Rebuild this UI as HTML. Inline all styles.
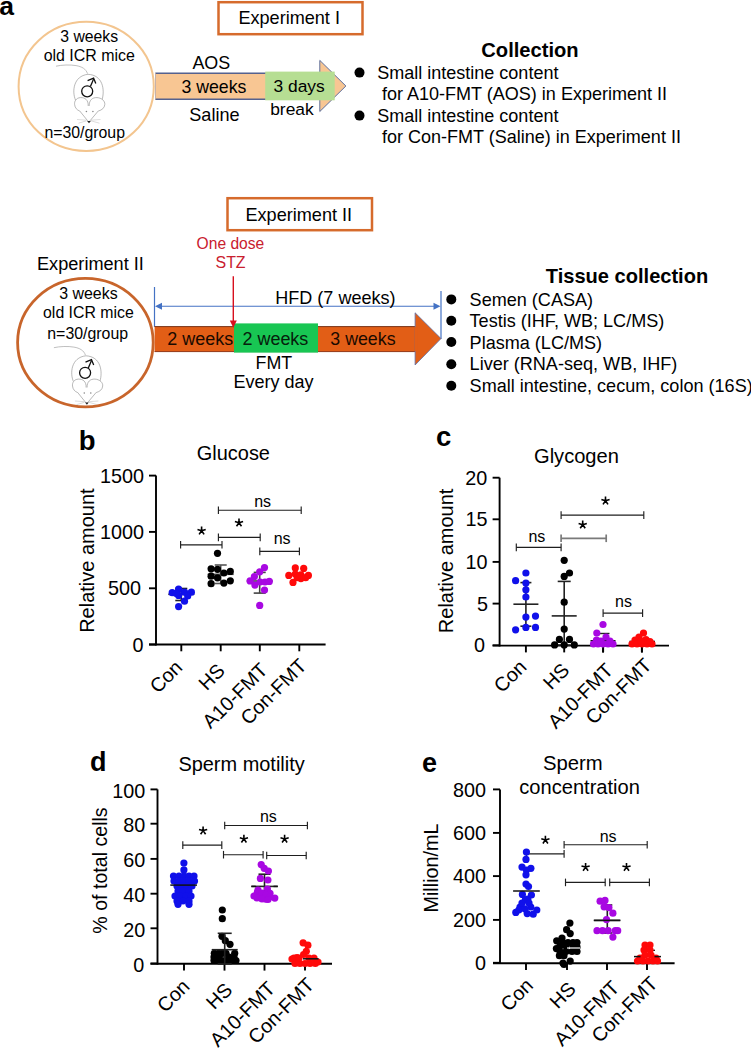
<!DOCTYPE html>
<html><head><meta charset="utf-8"><style>
html,body{margin:0;padding:0;background:#fff;}
body{width:751px;height:1050px;overflow:hidden;}
svg{display:block;font-family:"Liberation Sans", sans-serif;}
</style></head><body>
<svg width="751" height="1050" viewBox="0 0 751 1050">
<rect width="751" height="1050" fill="#fff"/>
<text x="-0.7" y="15.3" font-size="26.5" text-anchor="start" font-weight="bold" fill="#000" >a</text>
<ellipse cx="86.2" cy="86.4" rx="67.6" ry="64.6" fill="#fff" stroke="#F3C58F" stroke-width="2"/>
<text x="89.2" y="42.1" font-size="15.75" text-anchor="middle" font-weight="normal" fill="#000" >3 weeks</text>
<text x="89.3" y="61.3" font-size="15.95" text-anchor="middle" font-weight="normal" fill="#000" >old ICR mice</text>
<g transform="translate(0,0)" fill="none" stroke="#8a8a8a" stroke-width="0.6">
<path d="M56,66.2 C62,64.8 70,64.6 76,65.6 C82,66.6 86,69 87.5,73.6" stroke="#b8b8b8" stroke-width="0.9"/>
<path d="M75.5,100 C72,92 73,76 88,74.3 C103,75 105,90 102,100" fill="#fff"/>
<path d="M88.2,106 C88.5,100 85,97.4 80.5,97.6 C76,97.8 74.2,101.5 74.6,104.5 C75,108 77,110 79.6,111" fill="#fff"/>
<path d="M89.2,106 C89,100 92.5,97.4 97,97.6 C101.5,97.8 105.2,101 104.8,104.5 C104.5,108 102,110 98.4,111" fill="#fff"/>
<path d="M79.6,110.8 L88.8,122.2 L98.4,110.8" fill="none"/>
<path d="M86.5,120.2 L77,119.5 M86.5,120.8 L78.5,123.2 M91,120.2 L100.5,119.5 M91,120.8 L99.5,123.2" stroke="#bbb" stroke-width="0.5"/>
</g>
<g transform="translate(0,0)">
<circle cx="86.4" cy="111.5" r="0.8" fill="#888"/><circle cx="92.9" cy="111.5" r="0.8" fill="#888"/>
<path d="M87.2,121 L90.8,121 L89,123.2 Z" fill="#222"/>
<circle cx="87.2" cy="91.3" r="5.5" fill="none" stroke="#111" stroke-width="1.3"/>
<line x1="90.4" y1="86.6" x2="93.6" y2="79" stroke="#111" stroke-width="1.3"/>
<path d="M87.6,80.6 L93.6,78.2 L95.8,83.6" fill="none" stroke="#111" stroke-width="1.3"/>
</g>
<text x="84.7" y="137.9" font-size="15.85" text-anchor="middle" font-weight="normal" fill="#000" >n=30/group</text>
<rect x="218.5" y="2.2" width="144" height="32" fill="#fff" stroke="#D66B2C" stroke-width="2.5"/>
<text x="238.4" y="23.6" font-size="18.1" text-anchor="start" font-weight="normal" fill="#000" >Experiment I</text>
<rect x="155.3" y="73" width="165" height="26.5" fill="#F8C693"/>
<line x1="155.3" y1="73.2" x2="320.3" y2="73.2" stroke="#55618E" stroke-width="1.4" />
<line x1="155.3" y1="99.3" x2="320.3" y2="99.3" stroke="#55618E" stroke-width="1.4" />
<line x1="155.5" y1="73" x2="155.5" y2="99.5" stroke="#B8A8A8" stroke-width="0.8" />
<polygon points="319.8,60.4 345.9,86 319.8,111.5" fill="#F8C693" stroke="#5E6F9C" stroke-width="1"/>
<rect x="265.2" y="71.6" width="69.5" height="28.7" fill="#B6DE93"/>
<text x="192.4" y="68.8" font-size="17.9" text-anchor="start" font-weight="normal" fill="#000" >AOS</text>
<text x="181.5" y="92.9" font-size="17.7" text-anchor="start" font-weight="normal" fill="#000" >3 weeks</text>
<text x="189.3" y="120.5" font-size="18.1" text-anchor="start" font-weight="normal" fill="#000" >Saline</text>
<text x="273.5" y="91.9" font-size="17.4" text-anchor="start" font-weight="normal" fill="#000" >3 days</text>
<text x="270.2" y="114.7" font-size="17.4" text-anchor="start" font-weight="normal" fill="#000" >break</text>
<circle cx="359.5" cy="72.6" r="5.0" fill="#000"/>
<circle cx="359.5" cy="115.6" r="5.0" fill="#000"/>
<text x="481.3" y="56.8" font-size="20.15" text-anchor="start" font-weight="bold" fill="#000" >Collection</text>
<text x="377.2" y="78.9" font-size="18.03" text-anchor="start" font-weight="normal" fill="#000" >Small intestine content</text>
<text x="381.9" y="99.9" font-size="18.05" text-anchor="start" font-weight="normal" fill="#000" >for A10-FMT (AOS) in Experiment II</text>
<text x="377.2" y="121.5" font-size="18.03" text-anchor="start" font-weight="normal" fill="#000" >Small intestine content</text>
<text x="381.9" y="142.6" font-size="18.03" text-anchor="start" font-weight="normal" fill="#000" >for Con-FMT (Saline) in Experiment II</text>
<rect x="227.5" y="198.2" width="144.5" height="32" fill="#fff" stroke="#D66B2C" stroke-width="2.5"/>
<text x="245.5" y="221.3" font-size="18.1" text-anchor="start" font-weight="normal" fill="#000" >Experiment II</text>
<text x="196.6" y="248.8" font-size="15.6" text-anchor="start" font-weight="normal" fill="#C9202E" >One dose</text>
<text x="215.5" y="268.0" font-size="15.95" text-anchor="start" font-weight="normal" fill="#C9202E" >STZ</text>
<text x="37.0" y="269.6" font-size="18.15" text-anchor="start" font-weight="normal" fill="#000" >Experiment II</text>
<ellipse cx="85.4" cy="342.6" rx="67.8" ry="64.2" fill="#fff" stroke="#C8652B" stroke-width="2.8"/>
<text x="88.4" y="298.8" font-size="15.95" text-anchor="middle" font-weight="normal" fill="#000" >3 weeks</text>
<text x="88.4" y="317.5" font-size="15.85" text-anchor="middle" font-weight="normal" fill="#000" >old ICR mice</text>
<text x="87.7" y="339.2" font-size="15.9" text-anchor="middle" font-weight="normal" fill="#000" >n=30/group</text>
<clipPath id="c2"><ellipse cx="85.4" cy="342.6" rx="66.5" ry="63"/></clipPath>
<g clip-path="url(#c2)">
<g transform="translate(-2.1,281.5)" fill="none" stroke="#8a8a8a" stroke-width="0.6">
<path d="M56,66.2 C62,64.8 70,64.6 76,65.6 C82,66.6 86,69 87.5,73.6" stroke="#b8b8b8" stroke-width="0.9"/>
<path d="M75.5,100 C72,92 73,76 88,74.3 C103,75 105,90 102,100" fill="#fff"/>
<path d="M88.2,106 C88.5,100 85,97.4 80.5,97.6 C76,97.8 74.2,101.5 74.6,104.5 C75,108 77,110 79.6,111" fill="#fff"/>
<path d="M89.2,106 C89,100 92.5,97.4 97,97.6 C101.5,97.8 105.2,101 104.8,104.5 C104.5,108 102,110 98.4,111" fill="#fff"/>
<path d="M79.6,110.8 L88.8,122.2 L98.4,110.8" fill="none"/>
<path d="M86.5,120.2 L77,119.5 M86.5,120.8 L78.5,123.2 M91,120.2 L100.5,119.5 M91,120.8 L99.5,123.2" stroke="#bbb" stroke-width="0.5"/>
</g>
<g transform="translate(-2.1,281.5)">
<circle cx="86.4" cy="111.5" r="0.8" fill="#888"/><circle cx="92.9" cy="111.5" r="0.8" fill="#888"/>
<path d="M87.2,121 L90.8,121 L89,123.2 Z" fill="#222"/>
<circle cx="87.2" cy="91.3" r="5.5" fill="none" stroke="#111" stroke-width="1.3"/>
<line x1="90.4" y1="86.6" x2="93.6" y2="79" stroke="#111" stroke-width="1.3"/>
<path d="M87.6,80.6 L93.6,78.2 L95.8,83.6" fill="none" stroke="#111" stroke-width="1.3"/>
</g>
</g>
<line x1="154.5" y1="287" x2="154.5" y2="327" stroke="#4472C4" stroke-width="1.2" />
<line x1="441" y1="291" x2="441" y2="339" stroke="#4472C4" stroke-width="1.2" />
<line x1="158" y1="306.3" x2="437" y2="306.3" stroke="#4472C4" stroke-width="1.1" />
<polygon points="155,306.3 162,302.8 162,309.8" fill="#4472C4"/>
<polygon points="440.5,306.3 433.5,302.8 433.5,309.8" fill="#4472C4"/>
<text x="275.3" y="303.6" font-size="18.05" text-anchor="start" font-weight="normal" fill="#000" >HFD (7 weeks)</text>
<rect x="154.6" y="326.2" width="261" height="25.8" fill="#E25E16"/>
<line x1="154.6" y1="326.6" x2="415" y2="326.6" stroke="#7A3A20" stroke-width="1" />
<line x1="154.6" y1="351.6" x2="415" y2="351.6" stroke="#8A3A20" stroke-width="0.9" />
<polygon points="415.1,312.8 441,338.6 415.1,365" fill="#E25E16" stroke="#5C6FA8" stroke-width="0.8"/>
<rect x="414.6" y="327.1" width="2.5" height="24" fill="#E25E16"/>
<rect x="234" y="323.4" width="84" height="29.2" fill="#18C653"/>
<text x="167.3" y="344.7" font-size="17.95" text-anchor="start" font-weight="normal" fill="#1a0a00" >2 weeks</text>
<text x="242.5" y="345.1" font-size="17.95" text-anchor="start" font-weight="normal" fill="#06200c" >2 weeks</text>
<text x="330.3" y="345.1" font-size="17.8" text-anchor="start" font-weight="normal" fill="#1a0a00" >3 weeks</text>
<text x="255.6" y="368.6" font-size="17.85" text-anchor="start" font-weight="normal" fill="#000" >FMT</text>
<text x="233.4" y="387.9" font-size="18.05" text-anchor="start" font-weight="normal" fill="#000" >Every day</text>
<line x1="233.3" y1="276.3" x2="233.3" y2="322" stroke="#D7101E" stroke-width="1.4" />
<polygon points="229.8,320.5 236.8,320.5 233.3,327.8" fill="#D7101E"/>
<circle cx="451.3" cy="299.4" r="5.0" fill="#000"/>
<circle cx="451.3" cy="320.7" r="5.0" fill="#000"/>
<circle cx="451.3" cy="342.0" r="5.0" fill="#000"/>
<circle cx="451.3" cy="364.2" r="5.0" fill="#000"/>
<circle cx="451.3" cy="385.7" r="5.0" fill="#000"/>
<text x="545.8" y="282.5" font-size="20.07" text-anchor="start" font-weight="bold" fill="#000" >Tissue collection</text>
<text x="469.6" y="305.9" font-size="18.07" text-anchor="start" font-weight="normal" fill="#000" >Semen (CASA)</text>
<text x="469.6" y="327.34999999999997" font-size="18.07" text-anchor="start" font-weight="normal" fill="#000" >Testis (IHF, WB; LC/MS)</text>
<text x="469.6" y="348.79999999999995" font-size="18.07" text-anchor="start" font-weight="normal" fill="#000" >Plasma (LC/MS)</text>
<text x="469.6" y="370.25" font-size="18.07" text-anchor="start" font-weight="normal" fill="#000" >Liver (RNA-seq, WB, IHF)</text>
<text x="469.6" y="391.7" font-size="18.07" text-anchor="start" font-weight="normal" fill="#000" >Small intestine, cecum, colon (16S)</text>
<text x="78.8" y="449.8" font-size="27.5" text-anchor="start" font-weight="bold" fill="#000" >b</text>
<text x="196.8" y="460.1" font-size="19.95" text-anchor="start" font-weight="normal" fill="#000" >Glucose</text>
<line x1="156" y1="475.6" x2="156" y2="645.4" stroke="#000" stroke-width="1.9" />
<line x1="149" y1="475.6" x2="156" y2="475.6" stroke="#000" stroke-width="1.9" />
<line x1="149" y1="531.9" x2="156" y2="531.9" stroke="#000" stroke-width="1.9" />
<line x1="149" y1="588.3" x2="156" y2="588.3" stroke="#000" stroke-width="1.9" />
<line x1="149" y1="644.5" x2="156" y2="644.5" stroke="#000" stroke-width="1.9" />
<line x1="149" y1="644.5" x2="325.6" y2="644.5" stroke="#000" stroke-width="1.9" />
<line x1="181.3" y1="644.5" x2="181.3" y2="651.3" stroke="#000" stroke-width="1.9" />
<line x1="220.7" y1="644.5" x2="220.7" y2="651.3" stroke="#000" stroke-width="1.9" />
<line x1="259.8" y1="644.5" x2="259.8" y2="651.3" stroke="#000" stroke-width="1.9" />
<line x1="299.3" y1="644.5" x2="299.3" y2="651.3" stroke="#000" stroke-width="1.9" />
<text x="143.9" y="482.70000000000005" font-size="19.8" text-anchor="end" font-weight="normal" fill="#000" >1500</text>
<text x="143.9" y="539.0" font-size="19.8" text-anchor="end" font-weight="normal" fill="#000" >1000</text>
<text x="141.1" y="595.4" font-size="19.8" text-anchor="end" font-weight="normal" fill="#000" >500</text>
<text x="143.5" y="651.6" font-size="19.8" text-anchor="end" font-weight="normal" fill="#000" >0</text>
<text transform="translate(94.3,560.6) rotate(-90)" font-size="20" text-anchor="middle">Relative amount</text>
<text transform="translate(183.6,668.6) rotate(-45)" font-size="19.8" text-anchor="end">Con</text>
<text transform="translate(226.2,672.0) rotate(-45)" font-size="19.8" text-anchor="end">HS</text>
<text transform="translate(268.9,671.2) rotate(-45)" font-size="19.8" text-anchor="end">A10-FMT</text>
<text transform="translate(307.8,667.0) rotate(-45)" font-size="19.8" text-anchor="end">Con-FMT</text>
<line x1="180.6" y1="544.8" x2="222" y2="544.8" stroke="#1e1e1e" stroke-width="1.15" />
<line x1="180.6" y1="541.0" x2="180.6" y2="548.5999999999999" stroke="#1e1e1e" stroke-width="1.15" />
<line x1="222" y1="541.0" x2="222" y2="548.5999999999999" stroke="#1e1e1e" stroke-width="1.15" />
<line x1="218.4" y1="537.4" x2="260.2" y2="537.4" stroke="#1e1e1e" stroke-width="1.15" />
<line x1="218.4" y1="533.6" x2="218.4" y2="541.1999999999999" stroke="#1e1e1e" stroke-width="1.15" />
<line x1="260.2" y1="533.6" x2="260.2" y2="541.1999999999999" stroke="#1e1e1e" stroke-width="1.15" />
<line x1="218.4" y1="510.2" x2="301.2" y2="510.2" stroke="#1e1e1e" stroke-width="1.15" />
<line x1="218.4" y1="506.4" x2="218.4" y2="514.0" stroke="#1e1e1e" stroke-width="1.15" />
<line x1="301.2" y1="506.4" x2="301.2" y2="514.0" stroke="#1e1e1e" stroke-width="1.15" />
<line x1="259.8" y1="551.4" x2="299.4" y2="551.4" stroke="#1e1e1e" stroke-width="1.15" />
<line x1="259.8" y1="547.6" x2="259.8" y2="555.1999999999999" stroke="#1e1e1e" stroke-width="1.15" />
<line x1="299.4" y1="547.6" x2="299.4" y2="555.1999999999999" stroke="#1e1e1e" stroke-width="1.15" />
<path d="M201.6,530.8 L201.6,526.5999999999999 M201.6,530.8 L197.5,529.5999999999999 M201.6,530.8 L205.7,529.5999999999999 M201.6,530.8 L199.1,534.4 M201.6,530.8 L204.1,534.4" stroke="#000" stroke-width="1.6" fill="none"/>
<path d="M239,522.6999999999999 L239,518.4999999999999 M239,522.6999999999999 L234.9,521.4999999999999 M239,522.6999999999999 L243.1,521.4999999999999 M239,522.6999999999999 L236.5,526.3 M239,522.6999999999999 L241.5,526.3" stroke="#000" stroke-width="1.6" fill="none"/>
<text x="254.2" y="507.2" font-size="16" text-anchor="start" font-weight="normal" fill="#000" >ns</text>
<text x="273.7" y="544.1999999999999" font-size="16" text-anchor="start" font-weight="normal" fill="#000" >ns</text>
<line x1="168.3" y1="594.3" x2="194.3" y2="594.3" stroke="#222" stroke-width="1.6" />
<line x1="175.3" y1="588.5" x2="187.3" y2="588.5" stroke="#222" stroke-width="1.6" />
<line x1="175.3" y1="600.5" x2="187.3" y2="600.5" stroke="#222" stroke-width="1.6" />
<line x1="181.3" y1="588.5" x2="181.3" y2="600.5" stroke="#222" stroke-width="1.6" />
<circle cx="178.6" cy="589" r="3.6" fill="#1010EA"/>
<circle cx="172.2" cy="592.7" r="3.6" fill="#1010EA"/>
<circle cx="184.5" cy="592.2" r="3.6" fill="#1010EA"/>
<circle cx="191.4" cy="592.2" r="3.6" fill="#1010EA"/>
<circle cx="178.6" cy="595.4" r="3.6" fill="#1010EA"/>
<circle cx="187.7" cy="596" r="3.6" fill="#1010EA"/>
<circle cx="184.5" cy="601.2" r="3.6" fill="#1010EA"/>
<circle cx="178.6" cy="606.6" r="3.6" fill="#1010EA"/>
<circle cx="176" cy="593.3" r="3.6" fill="#1010EA"/>
<line x1="207.7" y1="574.3" x2="233.7" y2="574.3" stroke="#555" stroke-width="1.6" />
<line x1="214.7" y1="565" x2="226.7" y2="565" stroke="#555" stroke-width="1.6" />
<line x1="214.7" y1="583.5" x2="226.7" y2="583.5" stroke="#555" stroke-width="1.6" />
<line x1="220.7" y1="565" x2="220.7" y2="583.5" stroke="#555" stroke-width="1.6" />
<circle cx="217.5" cy="553.3" r="3.6" fill="#000"/>
<circle cx="211.1" cy="568.8" r="3.6" fill="#000"/>
<circle cx="217.5" cy="569.3" r="3.6" fill="#000"/>
<circle cx="223.9" cy="573" r="3.6" fill="#000"/>
<circle cx="230.3" cy="571.4" r="3.6" fill="#000"/>
<circle cx="211.1" cy="576.2" r="3.6" fill="#000"/>
<circle cx="217.5" cy="577.8" r="3.6" fill="#000"/>
<circle cx="211.1" cy="583.7" r="3.6" fill="#000"/>
<circle cx="223.9" cy="583.1" r="3.6" fill="#000"/>
<circle cx="230.3" cy="580.8" r="3.6" fill="#000"/>
<line x1="246.7" y1="581" x2="272.7" y2="581" stroke="#444" stroke-width="1.6" />
<line x1="253.7" y1="572.4" x2="265.7" y2="572.4" stroke="#444" stroke-width="1.6" />
<line x1="253.7" y1="593.1" x2="265.7" y2="593.1" stroke="#444" stroke-width="1.6" />
<line x1="259.7" y1="572.4" x2="259.7" y2="593.1" stroke="#444" stroke-width="1.6" />
<circle cx="264.5" cy="567.6" r="3.6" fill="#A808E2"/>
<circle cx="259.7" cy="571.8" r="3.6" fill="#A808E2"/>
<circle cx="254.4" cy="576.6" r="3.6" fill="#A808E2"/>
<circle cx="250.1" cy="580.9" r="3.6" fill="#A808E2"/>
<circle cx="254.9" cy="585.1" r="3.6" fill="#A808E2"/>
<circle cx="260.2" cy="582" r="3.6" fill="#A808E2"/>
<circle cx="265" cy="582" r="3.6" fill="#A808E2"/>
<circle cx="269.3" cy="581.4" r="3.6" fill="#A808E2"/>
<circle cx="264.5" cy="590" r="3.6" fill="#A808E2"/>
<circle cx="259.7" cy="605.4" r="3.6" fill="#A808E2"/>
<circle cx="295.3" cy="567.9" r="3.6" fill="#FF0A0A"/>
<circle cx="303.7" cy="568.4" r="3.6" fill="#FF0A0A"/>
<circle cx="288.8" cy="575.4" r="3.6" fill="#FF0A0A"/>
<circle cx="295.3" cy="574" r="3.6" fill="#FF0A0A"/>
<circle cx="300.9" cy="574.9" r="3.6" fill="#FF0A0A"/>
<circle cx="308.4" cy="575.4" r="3.6" fill="#FF0A0A"/>
<circle cx="293" cy="582.4" r="3.6" fill="#FF0A0A"/>
<circle cx="300.9" cy="578.6" r="3.6" fill="#FF0A0A"/>
<circle cx="305.6" cy="577.7" r="3.6" fill="#FF0A0A"/>
<circle cx="297.2" cy="577.7" r="3.6" fill="#FF0A0A"/>
<text x="436" y="446" font-size="27.5" text-anchor="start" font-weight="bold" fill="#000" >c</text>
<text x="534.0" y="462.5" font-size="20.1" text-anchor="start" font-weight="normal" fill="#000" >Glycogen</text>
<line x1="499.6" y1="477.7" x2="499.6" y2="646.5" stroke="#000" stroke-width="1.9" />
<line x1="492.6" y1="477.7" x2="499.6" y2="477.7" stroke="#000" stroke-width="1.9" />
<line x1="492.6" y1="519.3" x2="499.6" y2="519.3" stroke="#000" stroke-width="1.9" />
<line x1="492.6" y1="561.9" x2="499.6" y2="561.9" stroke="#000" stroke-width="1.9" />
<line x1="492.6" y1="603.6" x2="499.6" y2="603.6" stroke="#000" stroke-width="1.9" />
<line x1="492.6" y1="645.3" x2="499.6" y2="645.3" stroke="#000" stroke-width="1.9" />
<line x1="492.6" y1="645.6" x2="669" y2="645.6" stroke="#000" stroke-width="1.9" />
<line x1="525.9" y1="645.6" x2="525.9" y2="652.4" stroke="#000" stroke-width="1.9" />
<line x1="564.2" y1="645.6" x2="564.2" y2="652.4" stroke="#000" stroke-width="1.9" />
<line x1="603.1" y1="645.6" x2="603.1" y2="652.4" stroke="#000" stroke-width="1.9" />
<line x1="641.9" y1="645.6" x2="641.9" y2="652.4" stroke="#000" stroke-width="1.9" />
<text x="487.3" y="484.8" font-size="19.8" text-anchor="end" font-weight="normal" fill="#000" >20</text>
<text x="487.6" y="526.4" font-size="19.8" text-anchor="end" font-weight="normal" fill="#000" >15</text>
<text x="487.6" y="569.0" font-size="19.8" text-anchor="end" font-weight="normal" fill="#000" >10</text>
<text x="488" y="610.7" font-size="19.8" text-anchor="end" font-weight="normal" fill="#000" >5</text>
<text x="485" y="652.4" font-size="19.8" text-anchor="end" font-weight="normal" fill="#000" >0</text>
<text transform="translate(453.3,560.9) rotate(-90)" font-size="20" text-anchor="middle">Relative amount</text>
<text transform="translate(527.7,668.2) rotate(-45)" font-size="19.8" text-anchor="end">Con</text>
<text transform="translate(570.6,671.4) rotate(-45)" font-size="19.8" text-anchor="end">HS</text>
<text transform="translate(614.2,671.5) rotate(-45)" font-size="19.8" text-anchor="end">A10-FMT</text>
<text transform="translate(652.8,666.4) rotate(-45)" font-size="19.8" text-anchor="end">Con-FMT</text>
<line x1="516.3" y1="547.4" x2="561.1" y2="547.4" stroke="#1e1e1e" stroke-width="1.15" />
<line x1="516.3" y1="543.6" x2="516.3" y2="551.1999999999999" stroke="#1e1e1e" stroke-width="1.15" />
<line x1="561.1" y1="543.6" x2="561.1" y2="551.1999999999999" stroke="#1e1e1e" stroke-width="1.15" />
<line x1="561.1" y1="538.3" x2="606.2" y2="538.3" stroke="#7a7a7a" stroke-width="1.7" />
<line x1="561.1" y1="534.5" x2="561.1" y2="542.0999999999999" stroke="#7a7a7a" stroke-width="1.7" />
<line x1="606.2" y1="534.5" x2="606.2" y2="542.0999999999999" stroke="#7a7a7a" stroke-width="1.7" />
<line x1="561.1" y1="515.0999999999999" x2="643.8" y2="515.0999999999999" stroke="#1e1e1e" stroke-width="1.15" />
<line x1="561.1" y1="511.2999999999999" x2="561.1" y2="518.8999999999999" stroke="#1e1e1e" stroke-width="1.15" />
<line x1="643.8" y1="511.2999999999999" x2="643.8" y2="518.8999999999999" stroke="#1e1e1e" stroke-width="1.15" />
<line x1="603.1" y1="613.0999999999999" x2="642.6" y2="613.0999999999999" stroke="#1e1e1e" stroke-width="1.15" />
<line x1="603.1" y1="609.3" x2="603.1" y2="616.8999999999999" stroke="#1e1e1e" stroke-width="1.15" />
<line x1="642.6" y1="609.3" x2="642.6" y2="616.8999999999999" stroke="#1e1e1e" stroke-width="1.15" />
<text x="528.4000000000001" y="541.5" font-size="16" text-anchor="start" font-weight="normal" fill="#000" >ns</text>
<path d="M582.7,524.6999999999999 L582.7,520.4999999999999 M582.7,524.6999999999999 L578.6,523.4999999999999 M582.7,524.6999999999999 L586.8000000000001,523.4999999999999 M582.7,524.6999999999999 L580.2,528.3 M582.7,524.6999999999999 L585.2,528.3" stroke="#000" stroke-width="1.6" fill="none"/>
<path d="M605.5,500.79999999999995 L605.5,496.59999999999997 M605.5,500.79999999999995 L601.4,499.59999999999997 M605.5,500.79999999999995 L609.6,499.59999999999997 M605.5,500.79999999999995 L603.0,504.4 M605.5,500.79999999999995 L608.0,504.4" stroke="#000" stroke-width="1.6" fill="none"/>
<text x="615.0" y="606.6999999999999" font-size="16" text-anchor="start" font-weight="normal" fill="#000" >ns</text>
<line x1="513.4" y1="604.2" x2="538.4" y2="604.2" stroke="#222" stroke-width="1.6" />
<line x1="520.4" y1="582.6" x2="531.4" y2="582.6" stroke="#222" stroke-width="1.6" />
<line x1="520.4" y1="626.2" x2="531.4" y2="626.2" stroke="#222" stroke-width="1.6" />
<line x1="525.9" y1="582.6" x2="525.9" y2="626.2" stroke="#222" stroke-width="1.6" />
<circle cx="525.9" cy="573" r="3.6" fill="#1010EA"/>
<circle cx="515.6" cy="580.7" r="3.6" fill="#1010EA"/>
<circle cx="525.9" cy="583.1" r="3.6" fill="#1010EA"/>
<circle cx="525.9" cy="589.8" r="3.6" fill="#1010EA"/>
<circle cx="525.9" cy="597" r="3.6" fill="#1010EA"/>
<circle cx="525.9" cy="617.1" r="3.6" fill="#1010EA"/>
<circle cx="535.5" cy="616.1" r="3.6" fill="#1010EA"/>
<circle cx="515.6" cy="629.8" r="3.6" fill="#1010EA"/>
<circle cx="525.9" cy="627.4" r="3.6" fill="#1010EA"/>
<circle cx="535.5" cy="627.4" r="3.6" fill="#1010EA"/>
<line x1="551.7" y1="615.9" x2="576.7" y2="615.9" stroke="#222" stroke-width="1.6" />
<line x1="557.7" y1="581.4" x2="570.7" y2="581.4" stroke="#222" stroke-width="1.6" />
<line x1="557.7" y1="645" x2="570.7" y2="645" stroke="#222" stroke-width="1.6" />
<line x1="564.2" y1="581.4" x2="564.2" y2="645" stroke="#222" stroke-width="1.6" />
<circle cx="564.2" cy="560.3" r="3.6" fill="#000"/>
<circle cx="564.2" cy="576.4" r="3.6" fill="#000"/>
<circle cx="569.5" cy="573" r="3.6" fill="#000"/>
<circle cx="564.2" cy="602.2" r="3.6" fill="#000"/>
<circle cx="564.2" cy="629.1" r="3.6" fill="#000"/>
<circle cx="559.4" cy="639.4" r="3.6" fill="#000"/>
<circle cx="554.6" cy="644.9" r="3.6" fill="#000"/>
<circle cx="564.2" cy="644.9" r="3.6" fill="#000"/>
<circle cx="569.5" cy="639.4" r="3.6" fill="#000"/>
<circle cx="574.3" cy="644.9" r="3.6" fill="#000"/>
<line x1="600" y1="633.5" x2="609.5" y2="633.5" stroke="#222" stroke-width="1.4" />
<line x1="590.5" y1="640.8" x2="615.5" y2="640.8" stroke="#111" stroke-width="1.6" />
<circle cx="603" cy="624.5" r="3.6" fill="#A808E2"/>
<circle cx="596.8" cy="633" r="3.6" fill="#A808E2"/>
<circle cx="606" cy="637" r="3.6" fill="#A808E2"/>
<circle cx="596.5" cy="640" r="3.6" fill="#A808E2"/>
<circle cx="593.5" cy="644" r="3.6" fill="#A808E2"/>
<circle cx="598" cy="644" r="3.6" fill="#A808E2"/>
<circle cx="603" cy="644" r="3.6" fill="#A808E2"/>
<circle cx="608" cy="644" r="3.6" fill="#A808E2"/>
<circle cx="613" cy="644" r="3.6" fill="#A808E2"/>
<circle cx="601" cy="641" r="3.6" fill="#A808E2"/>
<circle cx="610" cy="641" r="3.6" fill="#A808E2"/>
<line x1="603.1" y1="648.2" x2="603.1" y2="652.5" stroke="#000" stroke-width="1.9" />
<line x1="629.5" y1="641.5" x2="655" y2="641.5" stroke="#111" stroke-width="1.6" />
<circle cx="643.5" cy="633" r="3.6" fill="#FF0A0A"/>
<circle cx="639" cy="637" r="3.6" fill="#FF0A0A"/>
<circle cx="635" cy="640" r="3.6" fill="#FF0A0A"/>
<circle cx="646" cy="639.5" r="3.6" fill="#FF0A0A"/>
<circle cx="632" cy="644" r="3.6" fill="#FF0A0A"/>
<circle cx="637" cy="644" r="3.6" fill="#FF0A0A"/>
<circle cx="642" cy="644" r="3.6" fill="#FF0A0A"/>
<circle cx="647" cy="644" r="3.6" fill="#FF0A0A"/>
<circle cx="652" cy="644" r="3.6" fill="#FF0A0A"/>
<circle cx="641" cy="641" r="3.6" fill="#FF0A0A"/>
<circle cx="650" cy="641.5" r="3.6" fill="#FF0A0A"/>
<line x1="641.9" y1="648.2" x2="641.9" y2="652.5" stroke="#000" stroke-width="1.9" />
<text x="89.9" y="771.3" font-size="27" text-anchor="start" font-weight="bold" fill="#000" >d</text>
<text x="178.4" y="770.8" font-size="19.95" text-anchor="start" font-weight="normal" fill="#000" >Sperm motility</text>
<line x1="157.5" y1="789.4" x2="157.5" y2="964.6999999999999" stroke="#000" stroke-width="1.9" />
<line x1="150.5" y1="789.4" x2="157.5" y2="789.4" stroke="#000" stroke-width="1.9" />
<line x1="150.5" y1="823.7" x2="157.5" y2="823.7" stroke="#000" stroke-width="1.9" />
<line x1="150.5" y1="858.9" x2="157.5" y2="858.9" stroke="#000" stroke-width="1.9" />
<line x1="150.5" y1="893.7" x2="157.5" y2="893.7" stroke="#000" stroke-width="1.9" />
<line x1="150.5" y1="928.3" x2="157.5" y2="928.3" stroke="#000" stroke-width="1.9" />
<line x1="150.5" y1="963.5" x2="157.5" y2="963.5" stroke="#000" stroke-width="1.9" />
<line x1="150.5" y1="963.8" x2="332" y2="963.8" stroke="#000" stroke-width="1.9" />
<line x1="184" y1="963.8" x2="184" y2="970.5999999999999" stroke="#000" stroke-width="1.9" />
<line x1="224.5" y1="963.8" x2="224.5" y2="970.5999999999999" stroke="#000" stroke-width="1.9" />
<line x1="264.5" y1="963.8" x2="264.5" y2="970.5999999999999" stroke="#000" stroke-width="1.9" />
<line x1="305" y1="963.8" x2="305" y2="970.5999999999999" stroke="#000" stroke-width="1.9" />
<text x="145.2" y="797.7" font-size="19.8" text-anchor="end" font-weight="normal" fill="#000" >100</text>
<text x="145.2" y="832.0000000000001" font-size="19.8" text-anchor="end" font-weight="normal" fill="#000" >80</text>
<text x="145.2" y="867.2" font-size="19.8" text-anchor="end" font-weight="normal" fill="#000" >60</text>
<text x="145.2" y="902.0000000000001" font-size="19.8" text-anchor="end" font-weight="normal" fill="#000" >40</text>
<text x="145.2" y="936.6" font-size="19.8" text-anchor="end" font-weight="normal" fill="#000" >20</text>
<text x="144.2" y="971.8000000000001" font-size="19.8" text-anchor="end" font-weight="normal" fill="#000" >0</text>
<text transform="translate(106.5,870.5) rotate(-90)" font-size="19.6" text-anchor="middle">% of total cells</text>
<text transform="translate(190.9,987.8) rotate(-45)" font-size="19.8" text-anchor="end">Con</text>
<text transform="translate(233.7,991.1) rotate(-45)" font-size="19.8" text-anchor="end">HS</text>
<text transform="translate(276.4,989.8) rotate(-45)" font-size="19.8" text-anchor="end">A10-FMT</text>
<text transform="translate(315.4,986.0) rotate(-45)" font-size="19.8" text-anchor="end">Con-FMT</text>
<line x1="182.8" y1="845.0999999999999" x2="221.8" y2="845.0999999999999" stroke="#1e1e1e" stroke-width="1.15" />
<line x1="182.8" y1="841.3" x2="182.8" y2="848.8999999999999" stroke="#1e1e1e" stroke-width="1.15" />
<line x1="221.8" y1="841.3" x2="221.8" y2="848.8999999999999" stroke="#1e1e1e" stroke-width="1.15" />
<line x1="223.5" y1="854.6999999999999" x2="263.1" y2="854.6999999999999" stroke="#1e1e1e" stroke-width="1.15" />
<line x1="223.5" y1="850.9" x2="223.5" y2="858.4999999999999" stroke="#1e1e1e" stroke-width="1.15" />
<line x1="263.1" y1="850.9" x2="263.1" y2="858.4999999999999" stroke="#1e1e1e" stroke-width="1.15" />
<line x1="266.7" y1="855.5" x2="306.2" y2="855.5" stroke="#1e1e1e" stroke-width="1.15" />
<line x1="266.7" y1="851.7" x2="266.7" y2="859.3" stroke="#1e1e1e" stroke-width="1.15" />
<line x1="306.2" y1="851.7" x2="306.2" y2="859.3" stroke="#1e1e1e" stroke-width="1.15" />
<line x1="224.7" y1="825.5" x2="307.4" y2="825.5" stroke="#1e1e1e" stroke-width="1.15" />
<line x1="224.7" y1="821.7" x2="224.7" y2="829.3" stroke="#1e1e1e" stroke-width="1.15" />
<line x1="307.4" y1="821.7" x2="307.4" y2="829.3" stroke="#1e1e1e" stroke-width="1.15" />
<path d="M203.1,830.6 L203.1,826.4 M203.1,830.6 L199.0,829.4 M203.1,830.6 L207.2,829.4 M203.1,830.6 L200.6,834.2 M203.1,830.6 L205.6,834.2" stroke="#000" stroke-width="1.6" fill="none"/>
<path d="M243.9,838.9 L243.9,834.6999999999999 M243.9,838.9 L239.8,837.6999999999999 M243.9,838.9 L248.0,837.6999999999999 M243.9,838.9 L241.4,842.5 M243.9,838.9 L246.4,842.5" stroke="#000" stroke-width="1.6" fill="none"/>
<path d="M284.6,838.9 L284.6,834.6999999999999 M284.6,838.9 L280.5,837.6999999999999 M284.6,838.9 L288.70000000000005,837.6999999999999 M284.6,838.9 L282.1,842.5 M284.6,838.9 L287.1,842.5" stroke="#000" stroke-width="1.6" fill="none"/>
<text x="259.9" y="822.0" font-size="16" text-anchor="start" font-weight="normal" fill="#000" >ns</text>
<circle cx="183.9" cy="863" r="3.6" fill="#1010EA"/>
<circle cx="183.9" cy="869.9" r="3.6" fill="#1010EA"/>
<circle cx="173.5" cy="876" r="3.6" fill="#1010EA"/>
<circle cx="179" cy="876" r="3.6" fill="#1010EA"/>
<circle cx="184" cy="876" r="3.6" fill="#1010EA"/>
<circle cx="189" cy="876" r="3.6" fill="#1010EA"/>
<circle cx="194" cy="876" r="3.6" fill="#1010EA"/>
<circle cx="174" cy="881" r="3.6" fill="#1010EA"/>
<circle cx="179" cy="881" r="3.6" fill="#1010EA"/>
<circle cx="184" cy="881" r="3.6" fill="#1010EA"/>
<circle cx="189" cy="881" r="3.6" fill="#1010EA"/>
<circle cx="194.5" cy="881" r="3.6" fill="#1010EA"/>
<circle cx="177" cy="886" r="3.6" fill="#1010EA"/>
<circle cx="182" cy="886" r="3.6" fill="#1010EA"/>
<circle cx="187" cy="886" r="3.6" fill="#1010EA"/>
<circle cx="192" cy="886" r="3.6" fill="#1010EA"/>
<circle cx="178" cy="891" r="3.6" fill="#1010EA"/>
<circle cx="183" cy="891" r="3.6" fill="#1010EA"/>
<circle cx="189" cy="891" r="3.6" fill="#1010EA"/>
<circle cx="175" cy="896" r="3.6" fill="#1010EA"/>
<circle cx="180" cy="896" r="3.6" fill="#1010EA"/>
<circle cx="186" cy="896" r="3.6" fill="#1010EA"/>
<circle cx="191" cy="896" r="3.6" fill="#1010EA"/>
<circle cx="177" cy="901" r="3.6" fill="#1010EA"/>
<circle cx="183" cy="901" r="3.6" fill="#1010EA"/>
<circle cx="189" cy="901" r="3.6" fill="#1010EA"/>
<circle cx="178" cy="904.3" r="3.6" fill="#1010EA"/>
<circle cx="189" cy="904.3" r="3.6" fill="#1010EA"/>
<line x1="170.3" y1="885.1" x2="197" y2="885.1" stroke="#111" stroke-width="1.5" />
<circle cx="222.3" cy="910" r="3.6" fill="#000"/>
<circle cx="222.3" cy="918.7" r="3.6" fill="#000"/>
<circle cx="222" cy="936.3" r="3.6" fill="#000"/>
<circle cx="225.3" cy="940.7" r="3.6" fill="#000"/>
<circle cx="230" cy="944.3" r="3.6" fill="#000"/>
<circle cx="214.3" cy="953.3" r="3.6" fill="#000"/>
<circle cx="218.7" cy="953.3" r="3.6" fill="#000"/>
<circle cx="222.3" cy="953.3" r="3.6" fill="#000"/>
<circle cx="226" cy="953.3" r="3.6" fill="#000"/>
<circle cx="234.7" cy="953.3" r="3.6" fill="#000"/>
<circle cx="214" cy="960.5" r="3.6" fill="#000"/>
<circle cx="217.7" cy="960.5" r="3.6" fill="#000"/>
<circle cx="221.3" cy="960.5" r="3.6" fill="#000"/>
<circle cx="225" cy="960.5" r="3.6" fill="#000"/>
<circle cx="228.7" cy="960.5" r="3.6" fill="#000"/>
<circle cx="232.7" cy="960.5" r="3.6" fill="#000"/>
<circle cx="236" cy="960.5" r="3.6" fill="#000"/>
<circle cx="214" cy="957" r="3.6" fill="#000"/>
<circle cx="219" cy="957" r="3.6" fill="#000"/>
<circle cx="229" cy="957" r="3.6" fill="#000"/>
<circle cx="234" cy="957" r="3.6" fill="#000"/>
<line x1="211.7" y1="949.7" x2="237.7" y2="949.7" stroke="#222" stroke-width="1.6" />
<line x1="217.7" y1="933.3" x2="231.7" y2="933.3" stroke="#222" stroke-width="1.6" />
<line x1="217.7" y1="964" x2="231.7" y2="964" stroke="#222" stroke-width="1.6" />
<line x1="224.7" y1="933.3" x2="224.7" y2="964" stroke="#222" stroke-width="1.6" />
<line x1="251.3" y1="886.4" x2="277.7" y2="886.4" stroke="#222" stroke-width="1.6" />
<line x1="258.5" y1="874.2" x2="270.5" y2="874.2" stroke="#222" stroke-width="1.6" />
<line x1="258.5" y1="898" x2="270.5" y2="898" stroke="#222" stroke-width="1.6" />
<line x1="264.5" y1="874.2" x2="264.5" y2="898" stroke="#222" stroke-width="1.6" />
<circle cx="261.2" cy="864.6" r="3.6" fill="#A808E2"/>
<circle cx="264.2" cy="868.3" r="3.6" fill="#A808E2"/>
<circle cx="268.4" cy="871" r="3.6" fill="#A808E2"/>
<circle cx="260.4" cy="878.4" r="3.6" fill="#A808E2"/>
<circle cx="267.9" cy="880" r="3.6" fill="#A808E2"/>
<circle cx="257.3" cy="892.3" r="3.6" fill="#A808E2"/>
<circle cx="254" cy="896" r="3.6" fill="#A808E2"/>
<circle cx="260" cy="896.5" r="3.6" fill="#A808E2"/>
<circle cx="267.4" cy="889.1" r="3.6" fill="#A808E2"/>
<circle cx="270" cy="893.3" r="3.6" fill="#A808E2"/>
<circle cx="265.8" cy="899.2" r="3.6" fill="#A808E2"/>
<circle cx="274.8" cy="898.1" r="3.6" fill="#A808E2"/>
<circle cx="262.6" cy="896" r="3.6" fill="#A808E2"/>
<circle cx="258" cy="890" r="3.6" fill="#A808E2"/>
<circle cx="262" cy="893" r="3.6" fill="#A808E2"/>
<circle cx="266" cy="895" r="3.6" fill="#A808E2"/>
<circle cx="270" cy="897" r="3.6" fill="#A808E2"/>
<circle cx="257" cy="898" r="3.6" fill="#A808E2"/>
<circle cx="262" cy="899" r="3.6" fill="#A808E2"/>
<circle cx="268" cy="899.5" r="3.6" fill="#A808E2"/>
<line x1="251.4" y1="886.4" x2="256" y2="886.4" stroke="#111" stroke-width="1.5" />
<line x1="273.5" y1="886.4" x2="277.8" y2="886.4" stroke="#111" stroke-width="1.5" />
<circle cx="303.1" cy="942.8" r="3.6" fill="#FF0A0A"/>
<circle cx="307.9" cy="945.2" r="3.6" fill="#FF0A0A"/>
<circle cx="306.3" cy="951.3" r="3.6" fill="#FF0A0A"/>
<circle cx="303.6" cy="954.5" r="3.6" fill="#FF0A0A"/>
<circle cx="292" cy="959" r="3.6" fill="#FF0A0A"/>
<circle cx="297" cy="957.5" r="3.6" fill="#FF0A0A"/>
<circle cx="295" cy="963.5" r="3.6" fill="#FF0A0A"/>
<circle cx="300" cy="963.5" r="3.6" fill="#FF0A0A"/>
<circle cx="305" cy="963.5" r="3.6" fill="#FF0A0A"/>
<circle cx="310" cy="963.5" r="3.6" fill="#FF0A0A"/>
<circle cx="315.3" cy="963.5" r="3.6" fill="#FF0A0A"/>
<circle cx="294" cy="958" r="3.6" fill="#FF0A0A"/>
<circle cx="299" cy="958" r="3.6" fill="#FF0A0A"/>
<circle cx="309" cy="958" r="3.6" fill="#FF0A0A"/>
<circle cx="314" cy="958" r="3.6" fill="#FF0A0A"/>
<circle cx="318" cy="962" r="3.6" fill="#FF0A0A"/>
<line x1="303" y1="958.8" x2="318.6" y2="958.8" stroke="#111" stroke-width="1.5" />
<text x="422" y="772" font-size="27" text-anchor="start" font-weight="bold" fill="#000" >e</text>
<text x="543.0" y="769.6" font-size="20.3" text-anchor="start" font-weight="normal" fill="#000" >Sperm</text>
<text x="519.3" y="793.7" font-size="20.1" text-anchor="start" font-weight="normal" fill="#000" >concentration</text>
<line x1="500" y1="789.4" x2="500" y2="964.1" stroke="#000" stroke-width="1.9" />
<line x1="493" y1="789.4" x2="500" y2="789.4" stroke="#000" stroke-width="1.9" />
<line x1="493" y1="832.9" x2="500" y2="832.9" stroke="#000" stroke-width="1.9" />
<line x1="493" y1="876.1" x2="500" y2="876.1" stroke="#000" stroke-width="1.9" />
<line x1="493" y1="919.9" x2="500" y2="919.9" stroke="#000" stroke-width="1.9" />
<line x1="493" y1="962.8" x2="500" y2="962.8" stroke="#000" stroke-width="1.9" />
<line x1="493" y1="963.2" x2="674.6" y2="963.2" stroke="#000" stroke-width="1.9" />
<line x1="526" y1="963.2" x2="526" y2="970.0" stroke="#000" stroke-width="1.9" />
<line x1="567" y1="963.2" x2="567" y2="970.0" stroke="#000" stroke-width="1.9" />
<line x1="607" y1="963.2" x2="607" y2="970.0" stroke="#000" stroke-width="1.9" />
<line x1="647" y1="963.2" x2="647" y2="970.0" stroke="#000" stroke-width="1.9" />
<text x="486" y="796.5" font-size="19.8" text-anchor="end" font-weight="normal" fill="#000" >800</text>
<text x="486" y="840.0" font-size="19.8" text-anchor="end" font-weight="normal" fill="#000" >600</text>
<text x="486" y="883.2" font-size="19.8" text-anchor="end" font-weight="normal" fill="#000" >400</text>
<text x="486" y="927.0" font-size="19.8" text-anchor="end" font-weight="normal" fill="#000" >200</text>
<text x="486" y="969.9" font-size="19.8" text-anchor="end" font-weight="normal" fill="#000" >0</text>
<text transform="translate(437.6,868) rotate(-90)" font-size="19.8" text-anchor="middle">Million/mL</text>
<text transform="translate(534.3,986.8) rotate(-45)" font-size="19.8" text-anchor="end">Con</text>
<text transform="translate(577.2,990.2) rotate(-45)" font-size="19.8" text-anchor="end">HS</text>
<text transform="translate(620.5,989.0) rotate(-45)" font-size="19.8" text-anchor="end">A10-FMT</text>
<text transform="translate(658.7,984.8) rotate(-45)" font-size="19.8" text-anchor="end">Con-FMT</text>
<line x1="526.4" y1="853.9" x2="564.1" y2="853.9" stroke="#1e1e1e" stroke-width="1.15" />
<line x1="526.4" y1="850.1" x2="526.4" y2="857.6999999999999" stroke="#1e1e1e" stroke-width="1.15" />
<line x1="564.1" y1="850.1" x2="564.1" y2="857.6999999999999" stroke="#1e1e1e" stroke-width="1.15" />
<line x1="564.1" y1="844.6999999999999" x2="647.2" y2="844.6999999999999" stroke="#1e1e1e" stroke-width="1.15" />
<line x1="564.1" y1="840.9" x2="564.1" y2="848.4999999999999" stroke="#1e1e1e" stroke-width="1.15" />
<line x1="647.2" y1="840.9" x2="647.2" y2="848.4999999999999" stroke="#1e1e1e" stroke-width="1.15" />
<line x1="565.5" y1="882.4" x2="605.2" y2="882.4" stroke="#1e1e1e" stroke-width="1.15" />
<line x1="565.5" y1="878.6" x2="565.5" y2="886.1999999999999" stroke="#1e1e1e" stroke-width="1.15" />
<line x1="605.2" y1="878.6" x2="605.2" y2="886.1999999999999" stroke="#1e1e1e" stroke-width="1.15" />
<line x1="609.7" y1="882.4" x2="649.4" y2="882.4" stroke="#1e1e1e" stroke-width="1.15" />
<line x1="609.7" y1="878.6" x2="609.7" y2="886.1999999999999" stroke="#1e1e1e" stroke-width="1.15" />
<line x1="649.4" y1="878.6" x2="649.4" y2="886.1999999999999" stroke="#1e1e1e" stroke-width="1.15" />
<path d="M545.4,839.9 L545.4,835.6999999999999 M545.4,839.9 L541.3,838.6999999999999 M545.4,839.9 L549.5,838.6999999999999 M545.4,839.9 L542.9,843.5 M545.4,839.9 L547.9,843.5" stroke="#000" stroke-width="1.6" fill="none"/>
<text x="599.7" y="841.5" font-size="16" text-anchor="start" font-weight="normal" fill="#000" >ns</text>
<path d="M585.6,867.1 L585.6,862.9 M585.6,867.1 L581.5,865.9 M585.6,867.1 L589.7,865.9 M585.6,867.1 L583.1,870.7 M585.6,867.1 L588.1,870.7" stroke="#000" stroke-width="1.6" fill="none"/>
<path d="M626.5,867.1 L626.5,862.9 M626.5,867.1 L622.4,865.9 M626.5,867.1 L630.6,865.9 M626.5,867.1 L624.0,870.7 M626.5,867.1 L629.0,870.7" stroke="#000" stroke-width="1.6" fill="none"/>
<circle cx="526.4" cy="852.1" r="3.6" fill="#1010EA"/>
<circle cx="526" cy="859.4" r="3.6" fill="#1010EA"/>
<circle cx="522" cy="867.1" r="3.6" fill="#1010EA"/>
<circle cx="530.9" cy="868.3" r="3.6" fill="#1010EA"/>
<circle cx="526.4" cy="870" r="3.6" fill="#1010EA"/>
<circle cx="526" cy="874.8" r="3.6" fill="#1010EA"/>
<circle cx="526" cy="884.1" r="3.6" fill="#1010EA"/>
<circle cx="528.5" cy="886.5" r="3.6" fill="#1010EA"/>
<circle cx="522.4" cy="894.4" r="3.6" fill="#1010EA"/>
<circle cx="531.4" cy="895" r="3.6" fill="#1010EA"/>
<circle cx="525.4" cy="899.8" r="3.6" fill="#1010EA"/>
<circle cx="527.8" cy="899.2" r="3.6" fill="#1010EA"/>
<circle cx="520" cy="907" r="3.6" fill="#1010EA"/>
<circle cx="530.8" cy="907" r="3.6" fill="#1010EA"/>
<circle cx="515.8" cy="912.4" r="3.6" fill="#1010EA"/>
<circle cx="518.8" cy="910" r="3.6" fill="#1010EA"/>
<circle cx="527.2" cy="913.6" r="3.6" fill="#1010EA"/>
<circle cx="533.2" cy="914.2" r="3.6" fill="#1010EA"/>
<circle cx="536.8" cy="910" r="3.6" fill="#1010EA"/>
<circle cx="524.8" cy="908.8" r="3.6" fill="#1010EA"/>
<circle cx="522" cy="903" r="3.6" fill="#1010EA"/>
<circle cx="529" cy="903" r="3.6" fill="#1010EA"/>
<line x1="513.1" y1="891" x2="539.8" y2="891" stroke="#111" stroke-width="1.5" />
<circle cx="569.9" cy="923.1" r="3.6" fill="#000"/>
<circle cx="566.6" cy="929.7" r="3.6" fill="#000"/>
<circle cx="570.2" cy="933.6" r="3.6" fill="#000"/>
<circle cx="556.7" cy="940.8" r="3.6" fill="#000"/>
<circle cx="563" cy="942.6" r="3.6" fill="#000"/>
<circle cx="568" cy="942.6" r="3.6" fill="#000"/>
<circle cx="573" cy="942.6" r="3.6" fill="#000"/>
<circle cx="577" cy="942.6" r="3.6" fill="#000"/>
<circle cx="562" cy="938" r="3.6" fill="#000"/>
<circle cx="556.4" cy="948.6" r="3.6" fill="#000"/>
<circle cx="560" cy="951.5" r="3.6" fill="#000"/>
<circle cx="566" cy="951.5" r="3.6" fill="#000"/>
<circle cx="572" cy="951.5" r="3.6" fill="#000"/>
<circle cx="577" cy="951.5" r="3.6" fill="#000"/>
<circle cx="559.4" cy="955.7" r="3.6" fill="#000"/>
<circle cx="564" cy="955.7" r="3.6" fill="#000"/>
<circle cx="563" cy="963" r="3.6" fill="#000"/>
<circle cx="570.2" cy="961.1" r="3.6" fill="#000"/>
<circle cx="564" cy="964.5" r="3.6" fill="#000"/>
<circle cx="560" cy="946" r="3.6" fill="#000"/>
<circle cx="566" cy="946" r="3.6" fill="#000"/>
<circle cx="573" cy="946" r="3.6" fill="#000"/>
<circle cx="577" cy="947" r="3.6" fill="#000"/>
<line x1="567" y1="948" x2="580" y2="948" stroke="#fff" stroke-width="1.2" />
<line x1="594.0999999999999" y1="920.4" x2="620.5" y2="920.4" stroke="#222" stroke-width="1.6" />
<line x1="602.3" y1="905" x2="612.3" y2="905" stroke="#222" stroke-width="1.6" />
<line x1="602.3" y1="933" x2="612.3" y2="933" stroke="#222" stroke-width="1.6" />
<line x1="607.3" y1="905" x2="607.3" y2="933" stroke="#222" stroke-width="1.6" />
<circle cx="600.1" cy="901.2" r="3.6" fill="#A808E2"/>
<circle cx="605" cy="900.4" r="3.6" fill="#A808E2"/>
<circle cx="604.1" cy="906.8" r="3.6" fill="#A808E2"/>
<circle cx="608.9" cy="907.6" r="3.6" fill="#A808E2"/>
<circle cx="612.9" cy="913.2" r="3.6" fill="#A808E2"/>
<circle cx="606.5" cy="919.6" r="3.6" fill="#A808E2"/>
<circle cx="597" cy="930.7" r="3.6" fill="#A808E2"/>
<circle cx="602.5" cy="930.7" r="3.6" fill="#A808E2"/>
<circle cx="608.1" cy="930.7" r="3.6" fill="#A808E2"/>
<circle cx="615.3" cy="930.7" r="3.6" fill="#A808E2"/>
<circle cx="617.7" cy="930.7" r="3.6" fill="#A808E2"/>
<circle cx="612.9" cy="937.1" r="3.6" fill="#A808E2"/>
<line x1="593.7" y1="920.4" x2="620.1" y2="920.4" stroke="#111" stroke-width="1.5" />
<line x1="652" y1="950.3" x2="655" y2="950.3" stroke="#111" stroke-width="1.3" />
<circle cx="645" cy="945" r="3.6" fill="#FF0A0A"/>
<circle cx="650" cy="945" r="3.6" fill="#FF0A0A"/>
<circle cx="644" cy="950" r="3.6" fill="#FF0A0A"/>
<circle cx="650" cy="950" r="3.6" fill="#FF0A0A"/>
<circle cx="645" cy="955" r="3.6" fill="#FF0A0A"/>
<circle cx="651" cy="955" r="3.6" fill="#FF0A0A"/>
<circle cx="637.5" cy="961" r="3.6" fill="#FF0A0A"/>
<circle cx="643" cy="961" r="3.6" fill="#FF0A0A"/>
<circle cx="648" cy="961" r="3.6" fill="#FF0A0A"/>
<circle cx="653" cy="961" r="3.6" fill="#FF0A0A"/>
<circle cx="657.5" cy="961" r="3.6" fill="#FF0A0A"/>
<circle cx="640" cy="958" r="3.6" fill="#FF0A0A"/>
<circle cx="656" cy="958" r="3.6" fill="#FF0A0A"/>
<line x1="634" y1="956.6" x2="640.5" y2="956.6" stroke="#111" stroke-width="1.5" />
<line x1="654.5" y1="956.6" x2="661" y2="956.6" stroke="#111" stroke-width="1.5" />
</svg>
</body></html>
